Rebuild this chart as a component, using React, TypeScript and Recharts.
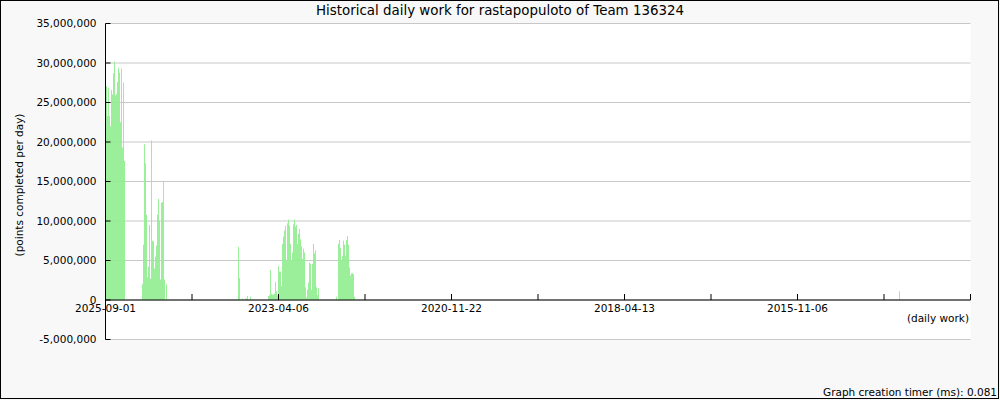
import { BarChart, Bar, XAxis, YAxis, CartesianGrid, ReferenceLine } from 'recharts'

// horizontal slots: one slot per pixel column of the plot, newest on the left
const slotCount = 865
const tickSlots = [0, 86.5, 173, 259.5, 346, 432.5, 519, 605.5, 692, 778.5, 865]
const tickLabels = ['2025-09-01', '', '2023-04-06', '', '2020-11-22', '', '2018-04-13', '', '2015-11-06', '', '']
const yTicks = [-5000000, 0, 5000000, 10000000, 15000000, 20000000, 25000000, 30000000, 35000000]

// daily work, in millions of points, per slot, grouped in runs of activity
const segmentStarts = [1, 37, 133, 163, 231, 794]
const run2025 = [27.1, 23.3, 26.9, 23.3, 22.0, 26.6, 26.0, 28.7, 30.2, 25.9, 26.1, 27.6, 29.4, 28.8, 22.5, 29.3, 19.3, 27.5, 17.6]
const run2024 = [2.0, 7.0, 19.7, 17.3, 10.8, 2.9, 4.2, 9.5, 2.7, 20.2, 7.5, 7.4, 4.0, 5.5, 6.9, 10.8, 12.8, 10.1, 2.6, 12.3, 12.4, 15.1, 2.6, 0, 2.0]
const run2023a = [6.7, 2.8, 0, 0, 0.2, 0, 0, 0.2, 0.2, 0.5, 0, 0, 0.4]
const run2023b = [
  0.5, 0.6, 3.8, 0.8, 0.7, 0.7, 0.8, 2.3, 1.1, 0.6, 4.3, 3.6, 3.6, 1.8, 7.1, 8.0, 8.8, 9.4, 5.0, 9.7,
  10.2, 9.4, 7.1, 5.0, 6.0, 9.6, 10.2, 9.3, 9.5, 7.1, 8.4, 9.0, 7.7, 6.8, 5.2, 6.5, 6.0, 1.6, 0.3, 1.3,
  2.2, 4.7, 4.6, 1.3, 4.6, 7.1, 5.9, 6.3, 1.6, 0.6, 1.5,
]
const run2022 = [0.4, 0, 7.1, 7.6, 6.6, 5.0, 5.6, 7.5, 7.0, 5.6, 7.6, 8.1, 7.0, 4.1, 3.1, 3.4, 3.4, 3.3, 0.4]
const run2015 = [1.1]
const segmentValues = [run2025, run2024, run2023a, run2023b, run2022, run2015]

const data = segmentStarts.flatMap((start, s) =>
  segmentValues[s].map((v, i) => ({ slot: start + i, work: v * 1000000 }))
)

const W = 1000
const H = 400
const margin = { top: 23.5, right: 29.5, bottom: 40, left: 0.5 }
const xAxisHeight = 20.5
const plotH = H - margin.top - margin.bottom - xAxisHeight
const zeroShift = (plotH * (0 - yTicks[0])) / (yTicks[yTicks.length - 1] - yTicks[0])
const font = { fontSize: 10.5, fill: '#000' }

function DateTick({ x, y, payload }: any) {
  const zy = y - zeroShift
  const label = tickLabels[tickSlots.indexOf(payload.value)]
  return (
    <g>
      <line x1={x} x2={x} y1={zy} y2={zy - 6} stroke="#000" />
      {label ? (
        <text x={x} y={zy + 12} textAnchor="middle" {...font}>
          {label}
        </text>
      ) : null}
    </g>
  )
}

function ValueTick({ x, y, payload }: any) {
  return (
    <g>
      <line x1={x} x2={x + 5} y1={y} y2={y} stroke="#000" />
      <text x={x - 9} y={y} dy="0.36em" textAnchor="end" {...font}>
        {Number(payload.value).toLocaleString('en-US')}
      </text>
    </g>
  )
}

export default function App() {
  return (
    <div
      style={{
        position: 'absolute',
        left: 0,
        top: 0,
        width: W,
        height: H,
        background: '#f8f8f8',
        fontFamily: '"DejaVu Sans", sans-serif',
      }}
    >
      <BarChart width={W} height={H} data={data} margin={margin} barCategoryGap={0}>
        <CartesianGrid vertical={false} stroke="#c8c8c8" fill="#fff" />
        <XAxis
          type="number"
          dataKey="slot"
          domain={[0, slotCount]}
          ticks={tickSlots}
          interval={0}
          height={xAxisHeight}
          axisLine={false}
          tickLine={false}
          tickSize={0}
          tickMargin={0}
          tick={<DateTick />}
          allowDataOverflow
        />
        <YAxis
          width={105}
          domain={[yTicks[0], yTicks[yTicks.length - 1]]}
          ticks={yTicks}
          interval={0}
          axisLine={{ stroke: '#000' }}
          tickLine={false}
          tickSize={0}
          tickMargin={0}
          tick={<ValueTick />}
          allowDataOverflow
        />
        <Bar dataKey="work" fill="#90ee90" barSize={1} isAnimationActive={false} />
        <ReferenceLine y={0} stroke="#000" />
      </BarChart>
      <svg width={W} height={H} style={{ position: 'absolute', left: 0, top: 0, pointerEvents: 'none' }}>
        <text x={500} y={15} textAnchor="middle" fontSize={13.4} fill="#000">
          Historical daily work for rastapopuloto of Team 136324
        </text>
        <text transform="translate(22.5,185) rotate(-90)" textAnchor="middle" {...font}>
          (points completed per day)
        </text>
        <text x={969} y={322} textAnchor="end" {...font}>
          (daily work)
        </text>
        <text x={997} y={396} textAnchor="end" {...font}>
          Graph creation timer (ms): 0.081
        </text>
      </svg>
      <div
        style={{
          position: 'absolute',
          left: 0,
          top: 0,
          width: W - 1,
          height: H - 1,
          boxSizing: 'border-box',
          border: '1px solid #000',
          pointerEvents: 'none',
        }}
      />
    </div>
  )
}
